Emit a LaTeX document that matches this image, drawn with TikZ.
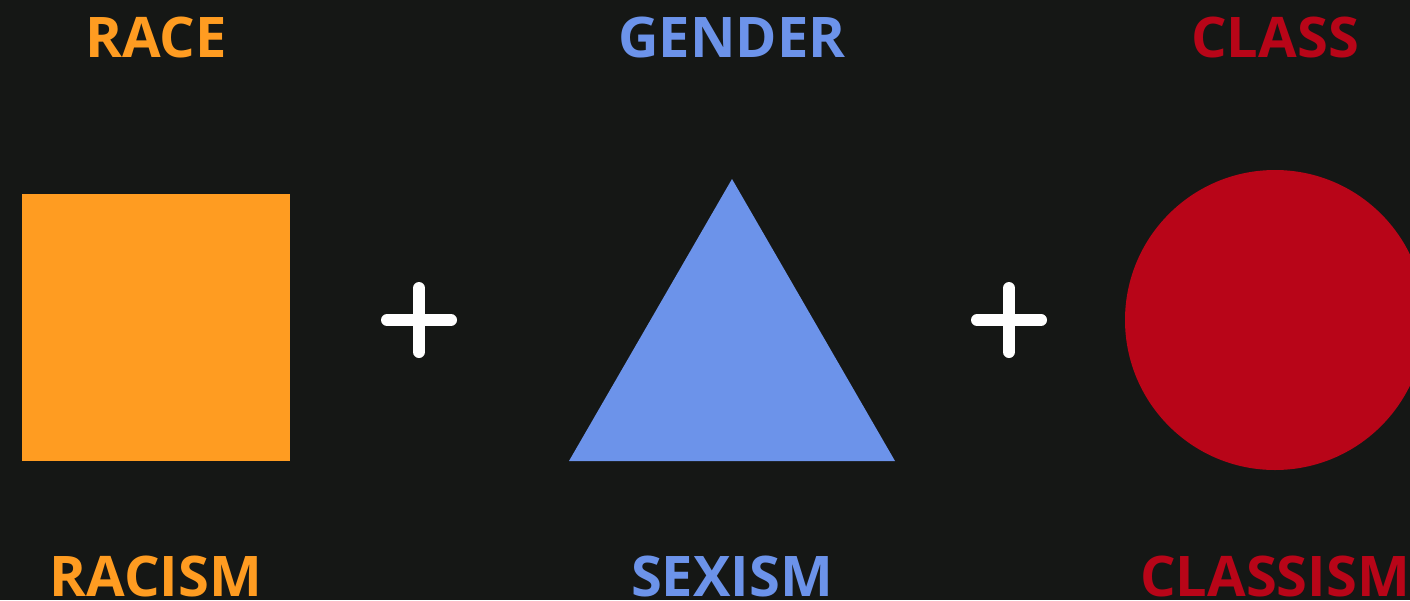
\documentclass[tikz,border=0pt]{standalone}
\usepackage{fontspec}
\setmainfont{Open Sans}
\usepackage{tikz}
\usetikzlibrary{positioning}
\definecolor{Night}{HTML}{151715}
\definecolor{Amber}{HTML}{FF9C21}
\definecolor{Cornflower}{HTML}{6C93EA}
\definecolor{Crimson}{HTML}{B80518}

\begin{document}
\begin{tikzpicture}[x=1pt,y=-1pt,
    every node/.style={font=\fontsize{56}{60}\selectfont\bfseries,anchor=base,inner sep=0pt},
    plussign/.style={draw=white,line width=12pt,line cap=round}]
  \fill[Night] (0,0) rectangle (1410,600);
  \useasboundingbox (0,0) rectangle (1410,600);
  % labels above
  \node[Amber] (race) at (156,57) {RACE};
  \node[Cornflower] (gender) at (732,57) {GENDER};
  \node[Crimson] (class) at (1275,57) {CLASS};
  % shapes
  \fill[Amber] (22,194) rectangle (290,461);
  \fill[Cornflower] (732,179) -- (895,461) -- (569,461) -- cycle;
  \begin{scope}
    \clip (0,0) rectangle (1410,600);
    \fill[Crimson] (1275,320) circle[radius=150];
  \end{scope}
  % plus signs
  \draw[plussign] (387,320) -- (451,320) (419,288) -- (419,352);
  \draw[plussign] (977,320) -- (1041,320) (1009,288) -- (1009,352);
  % labels below
  \node[Amber] (racism) at (156,596) {RACISM};
  \node[Cornflower] (sexism) at (732,596) {SEXISM};
  \node[Crimson] (classism) at (1275,596) {CLASSISM};
\end{tikzpicture}
\end{document}
